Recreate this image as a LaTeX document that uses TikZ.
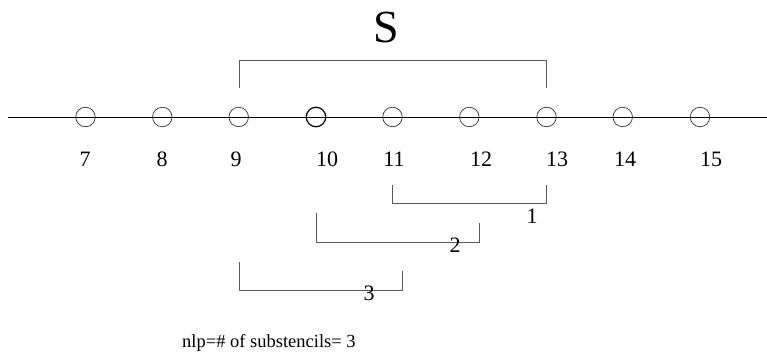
\documentclass[tikz,border=0pt]{standalone}
\usepackage{fontspec}
\setmainfont{Liberation Serif}
\begin{document}
\begin{tikzpicture}[x=1pt,y=-1pt,
  pt/.style={circle,draw=black!80,minimum size=19.5pt,inner sep=0pt,line width=0.7pt},
  idx/.style={font=\fontsize{22}{26}\selectfont,inner sep=0pt,anchor=center},
  brk/.style={draw=black!65,line width=0.9pt},
  tag/.style={font=\fontsize{22}{26}\selectfont,inner sep=0pt,anchor=center}]
  \useasboundingbox (0,0) rectangle (767,358);

  % axis
  \coordinate (L) at (8,117);
  \coordinate (R) at (767,117);
  \draw[line width=0.8pt] (L) -- (R);

  % grid points (open circles threaded on the axis)
  \foreach \n/\x in {7/85.5,8/162.3,9/238.7,11/392.5,12/469.3,13/546.5,14/622.7,15/700}
    \node[pt] (c\n) at (\x,117) {};
  \node[pt,line width=1.2pt,draw=black] (c10) at (316,117) {};

  % indices
  \foreach \n/\x in {7/85,8/162,9/236,10/327,11/394,12/481,13/557,14/625,15/711}
    \node[idx] (n\n) at (\x,159) {\n};

  % stencil S
  \node[font=\fontsize{46}{50}\selectfont,inner sep=0pt] (S) at (386,27) {S};
  \coordinate (s1) at (239,88);
  \coordinate (s2) at (546,88);
  \draw[brk] (s1) -- (239,60) -- (546,60) -- (s2);

  % substencil 1
  \coordinate (a1) at (392,185);
  \coordinate (a2) at (546,185);
  \draw[brk] (a1) -- (392,203) -- (546,203) -- (a2);
  \node[tag] (t1) at (532,216) {1};

  % substencil 2
  \coordinate (b1) at (316,213);
  \coordinate (b2) at (479,223);
  \draw[brk] (b1) -- (316,242) -- (479,242) -- (b2);
  \node[tag] (t2) at (455,245) {2};

  % substencil 3
  \coordinate (d1) at (239,262);
  \coordinate (d2) at (402,271);
  \draw[brk] (d1) -- (239,290) -- (402,290) -- (d2);
  \node[tag] (t3) at (369,293) {3};

  % caption
  \node[font=\fontsize{18.5}{22}\selectfont,inner sep=0pt,anchor=base west] (cap) at (182,347) {nlp=\# of substencils= 3};
\end{tikzpicture}
\end{document}
